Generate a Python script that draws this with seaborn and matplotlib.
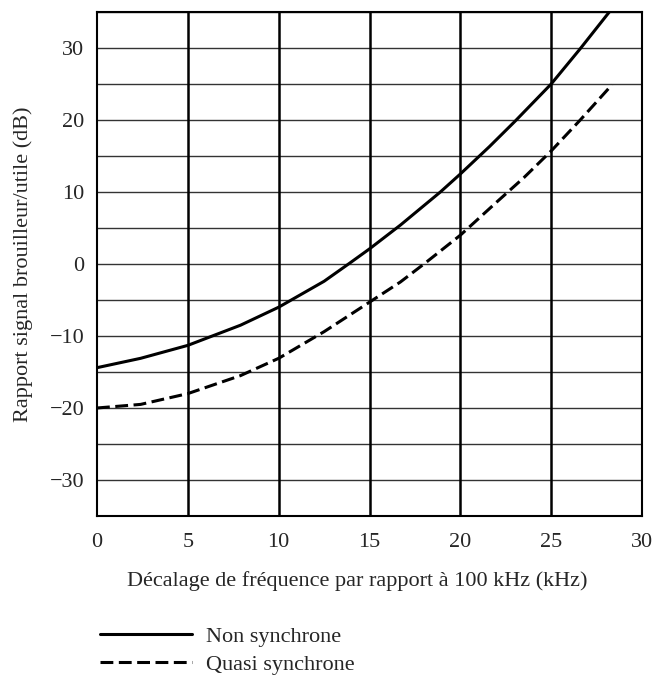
import matplotlib
matplotlib.use("Agg")
import matplotlib.pyplot as plt
import seaborn as sns
import pandas as pd
from matplotlib.lines import Line2D

# Data
x_non = [0, 2.4, 5, 7.9, 10, 12.5, 13.9, 15, 16.7, 18.9, 20, 21.6, 23, 25, 26.6, 28.2]
y_non = [-14.4, -13.1, -11.3, -8.5, -6.0, -2.4, 0.1, 2.1, 5.4, 10.0, 12.5, 16.3, 19.8, 25.0, 29.9, 35.0]
x_quasi = [0, 2.4, 5, 7.9, 10, 12.5, 15, 16.7, 18.1, 20, 22, 23.5, 25, 26.6, 28.35]
y_quasi = [-20.0, -19.5, -18.0, -15.5, -13.1, -9.4, -5.3, -2.5, 0.2, 4.0, 8.6, 12.0, 15.7, 20.0, 24.9]
series_names = ["Non synchrone", "Quasi synchrone"]
x_ticks = [0, 5, 10, 15, 20, 25, 30]
y_ticks = [-30, -20, -10, 0, 10, 20, 30]
x_label = "Décalage de fréquence par rapport à 100 kHz (kHz)"
y_label = "Rapport signal brouilleur/utile (dB)"

df = pd.concat([
    pd.DataFrame({"x": x_non, "y": y_non, "s": series_names[0]}),
    pd.DataFrame({"x": x_quasi, "y": y_quasi, "s": series_names[1]}),
])

sns.set_style("white")
plt.rcParams["font.family"] = ["Liberation Serif", "DejaVu Serif"]
FS = 16

fig = plt.figure(figsize=(6.55, 6.84), dpi=100)
ax = fig.add_axes([97/655, 1 - 516/684, (642-97)/655, (516-12)/684])

# grid
for yv in range(-35, 36, 5):
    ax.axhline(yv, color="#333333", lw=1.0, zorder=1)
for xv in range(5, 30, 5):
    ax.axvline(xv, color="black", lw=1.8, zorder=1)

DASH = (4.2, 1.8)
sns.lineplot(data=df, x="x", y="y", style="s", style_order=series_names,
             dashes={series_names[0]: "", series_names[1]: DASH},
             color="black", linewidth=2.2, ax=ax, legend=False, zorder=3,
             estimator=None, sort=False)

ax.set_xlim(0, 30)
ax.set_ylim(-35, 35)
ax.set_xticks(x_ticks)
ax.set_yticks(y_ticks)
ax.set_yticklabels([str(v).replace("-", "\u2212") for v in y_ticks])
ax.tick_params(length=0, labelsize=FS)
ax.tick_params(axis="x", pad=12)
ax.tick_params(axis="y", pad=9)
ax.set_xlabel(x_label, fontsize=FS, labelpad=14)
ax.xaxis.label.set_x((357 - 97) / 545)
ax.set_ylabel(y_label, fontsize=FS, labelpad=12)
for sp in ax.spines.values():
    sp.set_color("black")
    sp.set_linewidth(1.5)

handles = [Line2D([], [], color="black", lw=2.2),
           Line2D([], [], color="black", lw=2.2, ls=(0, DASH))]
fig.legend(handles, series_names, loc="upper left",
           bbox_to_anchor=(100/655, 1 - 626/684), frameon=False,
           borderpad=0, borderaxespad=0,
           handlelength=4.15, handletextpad=0.6, labelspacing=0.36, fontsize=FS)

fig.savefig("out.png", dpi=100)
